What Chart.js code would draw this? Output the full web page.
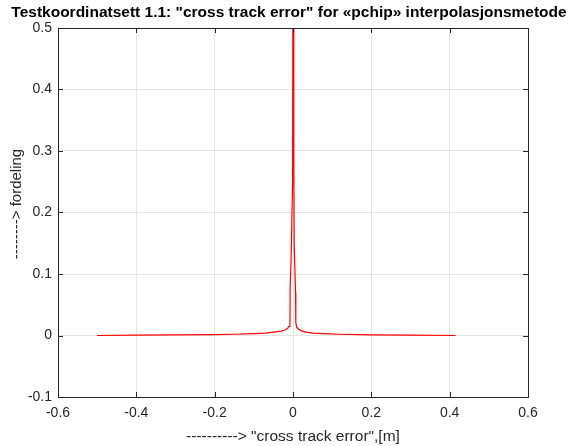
<!DOCTYPE html>
<html>
<head>
<meta charset="utf-8">
<script src="https://cdn.jsdelivr.net/npm/chart.js@4.4.0/dist/chart.umd.min.js"></script>
<style>
html,body{margin:0;padding:0;background:#fff;}
#wrap{width:578px;height:446px;}
</style>
</head>
<body>
<div id="wrap"><canvas id="c" width="578" height="446"></canvas></div>
<script>
const errX = [-0.5, -0.4, -0.3, -0.2, -0.15, -0.1, -0.07, -0.045, -0.03, -0.02, -0.013, -0.01, -0.0078, -0.0072, -0.005, -0.001, 0.0008, 0.002, 0.003, 0.0065, 0.0072, 0.009, 0.013, 0.02, 0.03, 0.05, 0.08, 0.12, 0.2, 0.3, 0.415];
const density = [0.0, 0.0005, 0.001, 0.0015, 0.002, 0.003, 0.004, 0.006, 0.007, 0.009, 0.012, 0.015, 0.022, 0.08, 0.12, 0.25, 1.0, 0.3, 0.15, 0.07, 0.022, 0.014, 0.011, 0.008, 0.006, 0.004, 0.003, 0.002, 0.001, 0.0005, 0.0];
const xTicks = [-0.6, -0.4, -0.2, 0, 0.2, 0.4, 0.6];
const yTicks = [-0.1, 0, 0.1, 0.2, 0.3, 0.4, 0.5];
const titleText = 'Testkoordinatsett 1.1: "cross track error" for «pchip» interpolasjonsmetode';
const xLabel = '----------> "cross track error",[m]';
const yLabel = '--------> fordeling';

const pts = errX.map((x, i) => ({x: x, y: density[i]}));
const FONT = 'Arial, "Liberation Sans", Helvetica, sans-serif';

const boxPlugin = {
  id: 'box',
  afterDraw(chart) {
    const {ctx, chartArea: a, scales} = chart;
    ctx.save();
    ctx.lineWidth = 1;
    ctx.strokeStyle = '#262626';
    ctx.beginPath();
    xTicks.forEach(v => {
      const px = Math.round(scales.x.getPixelForValue(v)) + 0.5;
      ctx.moveTo(px, a.bottom); ctx.lineTo(px, a.bottom - 5);
      ctx.moveTo(px, a.top); ctx.lineTo(px, a.top + 5);
    });
    yTicks.forEach(v => {
      const py = Math.round(scales.y.getPixelForValue(v)) + 0.5;
      ctx.moveTo(a.left, py); ctx.lineTo(a.left + 5, py);
      ctx.moveTo(a.right, py); ctx.lineTo(a.right - 5, py);
    });
    ctx.stroke();
    ctx.strokeRect(Math.round(a.left) + 0.5, Math.round(a.top) + 0.5, Math.round(a.right - a.left), Math.round(a.bottom - a.top));
    ctx.translate(17, 204);
    ctx.rotate(-Math.PI / 2);
    ctx.fillStyle = '#262626';
    ctx.font = '15px ' + FONT;
    ctx.textAlign = 'center';
    ctx.textBaseline = 'middle';
    ctx.fillText(yLabel, 0, 0);
    ctx.restore();
  }
};

new Chart(document.getElementById('c'), {
  type: 'scatter',
  data: {
    datasets: [{
      data: pts,
      showLine: true,
      borderColor: '#ff0000',
      backgroundColor: '#ff0000',
      borderWidth: 1.2,
      pointRadius: 0,
      tension: 0,
      fill: false
    }]
  },
  options: {
    responsive: false,
    animation: false,
    devicePixelRatio: 1,
    layout: {padding: 0},
    plugins: {
      legend: {display: false},
      tooltip: {enabled: false},
      title: {
        display: true,
        text: titleText,
        color: '#000',
        font: {family: FONT, size: 15.5, weight: 'bold'},
        padding: {top: 3, bottom: 6.4}
      }
    },
    scales: {
      x: {
        type: 'linear',
        min: -0.6, max: 0.6,
        afterBuildTicks: s => { s.ticks = xTicks.map(v => ({value: v})); },
        afterFit: s => { s.height = 49; },
        grid: {color: '#e5e5e5', drawTicks: false, lineWidth: 1},
        border: {display: false},
        ticks: {
          color: '#262626', font: {family: FONT, size: 14}, padding: 8,
          callback: v => String(Math.round(v * 10) / 10)
        },
        title: {display: true, text: xLabel, color: '#262626', font: {family: FONT, size: 15.5}, padding: {top: 1, bottom: 0}}
      },
      y: {
        type: 'linear',
        min: -0.1, max: 0.5,
        afterBuildTicks: s => { s.ticks = yTicks.map(v => ({value: v})); },
        afterFit: s => { s.width = 58; },
        grid: {color: '#e5e5e5', drawTicks: false, lineWidth: 1},
        border: {display: false},
        ticks: {
          color: '#262626', font: {family: FONT, size: 14}, padding: 6,
          callback: v => String(Math.round(v * 10) / 10)
        }
      },
      yRight: {
        type: 'linear',
        position: 'right',
        min: -0.1, max: 0.5,
        afterFit: s => { s.width = 50; },
        grid: {display: false, drawTicks: false},
        border: {display: false},
        ticks: {display: false}
      }
    }
  },
  plugins: [boxPlugin]
});
</script>
</body>
</html>
